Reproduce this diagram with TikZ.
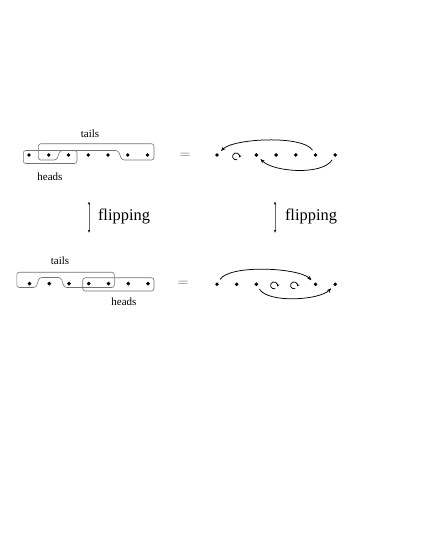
\documentclass[tikz,border=0pt]{standalone}
\usepackage{fontspec}
\setmainfont{Liberation Serif}
\usetikzlibrary{arrows.meta}
\begin{document}
\begin{tikzpicture}[x=1pt,y=1pt,
  pt/.style={circle,fill=black,inner sep=0pt,minimum size=3.9pt},
  vtx/.style={circle,inner sep=0pt,minimum size=11pt,
    path picture={\fill[black] (path picture bounding box.center) circle (1.95pt);}},
  lp/.style={circle,inner sep=0pt,minimum size=7pt},
  box/.style={draw=black!55,line width=0.6pt,rounded corners=2.5pt},
  lbl/.style={font=\fontsize{11}{13}\selectfont,inner sep=0pt},
  fliptext/.style={font=\fontsize{16.4}{19}\selectfont,inner sep=0pt},
  eqsign/.style={font=\fontsize{13.5}{15}\selectfont,inner sep=0pt,text=black!60},
  arcarr/.style={draw=black,line width=0.75pt,-{Stealth[length=4.5pt,width=3.6pt]}},
  looparr/.style={draw=black,line width=0.75pt,-{Stealth[length=2.6pt,width=2.6pt]}},
  fliparr/.style={draw=black!60,line width=0.5pt,
    {Stealth[length=3pt,width=2.4pt,color=black]}-{Stealth[length=3pt,width=2.4pt,color=black]}}
]
\useasboundingbox (0,0) rectangle (425,550);

% ---------- top left ----------
\foreach \i in {1,...,7} \node[pt] (a\i) at ({29+19.75*(\i-1)},395) {};
\draw[box] (38.3,406.2) -- (154,406.2) -- (154,390) -- (121.7,390) -- (118.3,399.5)
  -- (60,399.5) -- (56.7,390) -- (38.3,390) -- cycle;
\draw[box] (23.3,386.5) rectangle (77,399.5);
\node[lbl] (t1) at (90,416.7) {tails};
\node[lbl] (h1) at (50,373.3) {heads};

\node[eqsign] (eq1) at (185,394) {$=$};

% ---------- top right ----------
\foreach \i/\x in {1/217,3/256.4,4/276.1,5/295.8,6/315.5,7/335.2}
  \node[vtx] (b\i) at (\x,395) {};
\node[lp] (l1) at (236,393.8) {};
\draw[looparr] (l1.290) arc[start angle=290,end angle=-20,radius=3.5pt];
\draw[arcarr] (b6) to[out=122,in=45,looseness=0.5] (b1);
\draw[arcarr] (b7) to[out=238,in=315,looseness=0.66] (b3);

% ---------- flipping ----------
\coordinate (f1t) at (89,348.3);
\coordinate (f1b) at (89,317.3);
\coordinate (f2t) at (275,348.3);
\coordinate (f2b) at (275,317.3);
\draw[fliparr] (f1t) -- (f1b);
\draw[fliparr] (f2t) -- (f2b);
\node[fliptext] (fl1) at (124,334) {flipping};
\node[fliptext] (fl2) at (311,334) {flipping};

% ---------- bottom left ----------
\foreach \i in {1,...,7} \node[pt] (c\i) at ({29.5+19.75*(\i-1)},266.3) {};
\draw[box] (16.8,277.7) -- (114.3,277.7) -- (114.3,262.5) -- (64.3,262.5) -- (61,272.5)
  -- (39.3,272.5) -- (36,262.5) -- (16.8,262.5) -- cycle;
\draw[box] (82.7,259) rectangle (154,272.2);
\node[lbl] (t2) at (60,289.5) {tails};
\node[lbl] (h2) at (124,248) {heads};

\node[eqsign] (eq2) at (183,266) {$=$};

% ---------- bottom right ----------
\foreach \i/\x in {1/217,2/236.7,3/256.4,6/315.5,7/335.2}
  \node[vtx] (e\i) at (\x,265.7) {};
\node[lp] (l2) at (274,264.8) {};
\node[lp] (l3) at (294,264.8) {};
\draw[looparr] (l2.290) arc[start angle=290,end angle=-20,radius=3.5pt];
\draw[looparr] (l3.290) arc[start angle=290,end angle=-20,radius=3.5pt];
\draw[arcarr] (e1) to[out=58,in=135,looseness=0.5] (e6);
\draw[arcarr] (e3) to[out=302,in=225,looseness=0.6] (e7);
\end{tikzpicture}
\end{document}
